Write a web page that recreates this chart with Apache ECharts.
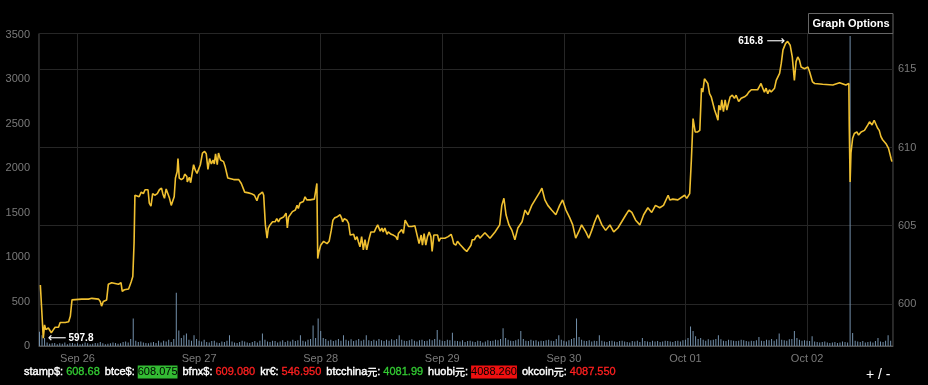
<!DOCTYPE html>
<html><head><meta charset="utf-8">
<script src="https://cdn.jsdelivr.net/npm/echarts@6/dist/echarts.min.js"></script>
<style>html,body{margin:0;padding:0;background:#000;}#c{width:928px;height:385px;}</style>
</head><body><div id="c"></div>
<script>
// ---------- DATA ----------
const YEAR = 2016;
const MONTHS = ['Jan','Feb','Mar','Apr','May','Jun','Jul','Aug','Sep','Oct','Nov','Dec'];

// price (USD) per day: [HH:mm, price]
const priceSep25 = [['16:40',601.2],['17:15',597.8],['17:30',598.65],['17:45',598.35],['18:15',598.45],['18:50',598.15],['19:15',598.35],['19:35',598.5],['20:15',598.5],['20:35',598.8],['21:35',598.8],['22:15',598.85],['22:35',599.2],['22:55',600.25],['23:15',600.3]];
const priceSep26 = [['00:50',600.3],['02:10',600.3],['02:50',600.35],['04:10',600.3],['04:30',600.15],['04:45',599.85],['05:05',600.15],['05:45',600.25],['06:05',601.25],['06:45',601.35],['08:05',601.25],['08:35',601.35],['08:50',600.8],['09:15',600.9],['10:05',600.95],['10:35',601.4],['10:55',601.75],['11:10',603.9],['11:20',606.95],['11:40',607.05],['12:10',606.85],['12:35',607.15],['13:00',607.05],['13:20',607.3],['13:55',607.3],['14:10',606.45],['14:30',606.25],['14:50',607.05],['15:15',606.95],['15:45',607.05],['16:10',607.3],['16:35',607.4],['16:50',607.05],['17:10',606.75],['17:30',607.35],['17:50',607.4],['18:10',606.75],['18:30',606.3],['18:45',606.2],['19:05',606.85],['19:20',608.05],['19:40',608.45],['19:50',609.3],['20:05',608.05],['20:30',607.95],['20:55',608.05],['21:10',608.3],['21:35',608.15],['21:40',607.8],['22:05',608.1],['22:20',607.75],['22:35',608.25],['22:55',608.9],['23:15',608.55],['23:35',608.35],['23:55',608.45]];
const priceSep27 = [['00:15',608.9],['00:40',609.65],['01:05',609.75],['01:25',609.6],['01:45',608.6],['02:05',609.3],['02:25',608.95],['02:45',609.2],['03:00',608.95],['03:15',609.6],['03:35',608.9],['03:50',609.65],['04:15',609.2],['04:30',609.3],['04:50',609.1],['05:10',608.75],['05:40',608.05],['06:50',607.95],['07:50',607.95],['08:20',607.7],['09:00',607.15],['09:45',607.1],['10:20',607.05],['10:55',606.95],['11:25',606.6],['11:45',606.95],['12:05',607.05],['12:30',607.15],['12:45',606.95],['13:05',605.05],['13:25',604.2],['13:40',604.85],['14:00',605.05],['14:30',605.25],['14:40',605.35],['15:00',605.25],['15:20',605.45],['15:40',605.25],['16:00',605.45],['16:40',605.55],['17:10',605.8],['17:25',604.85],['17:40',605.55],['18:00',605.55],['18:25',605.9],['19:00',606.0],['19:20',606.3],['19:35',606.1],['19:55',606.45],['20:35',606.55],['20:55',606.85],['21:15',606.65],['21:55',606.65],['22:15',606.55],['22:45',606.7],['23:05',606.65],['23:15',607.7],['23:25',602.9],['23:40',603.35]];
const priceSep28 = [['00:00',603.75],['00:35',604.0],['01:15',603.85],['01:40',604.0],['02:05',604.7],['02:25',605.35],['02:45',605.5],['03:10',605.55],['03:30',605.5],['03:50',605.7],['04:10',605.45],['04:20',605.25],['04:40',605.45],['05:10',605.35],['05:30',605.15],['05:50',604.4],['06:10',604.3],['06:30',604.45],['06:50',604.1],['07:10',604.3],['07:25',604.0],['07:45',603.65],['08:05',604.3],['08:25',603.45],['08:45',604.1],['09:05',603.45],['09:35',604.2],['09:55',604.6],['10:10',604.7],['10:35',604.6],['10:55',604.85],['11:15',605.05],['11:45',604.65],['12:05',604.85],['12:20',604.6],['12:40',604.85],['13:05',604.45],['13:20',604.6],['13:55',604.45],['14:20',604.4],['14:50',604.3],['15:10',604.1],['15:20',604.5],['15:40',604.4],['16:00',604.75],['16:20',604.5],['16:40',605.35],['17:00',605.25],['17:20',604.95],['17:40',605.0],['18:00',604.95],['18:35',605.0],['18:55',604.95],['19:10',604.2],['19:25',603.85],['19:50',604.4],['20:05',603.75],['20:25',604.5],['20:45',603.75],['21:05',604.3],['21:25',604.6],['21:45',604.3],['22:00',603.35],['22:20',604.4],['22:40',604.3],['23:05',604.4],['23:20',604.0],['23:40',604.2]];
const priceSep29 = [['00:00',604.1],['00:30',604.2],['00:50',604.1],['01:10',604.3],['01:45',604.45],['02:00',604.2],['02:15',603.85],['02:40',603.75],['03:00',604.0],['03:30',603.8],['03:55',603.65],['04:20',603.5],['04:50',603.35],['05:05',603.45],['05:40',603.75],['05:55',604.1],['06:20',604.1],['06:40',604.3],['07:05',604.4],['07:25',604.2],['08:25',604.55],['09:25',604.2],['10:25',604.6],['11:20',605.05],['11:45',606.3],['12:10',606.75],['12:35',605.7],['13:10',605.05],['13:45',604.7],['14:20',604.1],['14:55',604.85],['15:45',605.25],['16:20',606.0],['16:55',605.7],['17:40',606.3],['18:30',606.75],['19:15',607.15],['19:40',607.4],['20:15',606.65],['20:50',606.3],['21:35',606.0],['22:25',605.7],['23:10',606.3],['23:45',606.65]];
const priceSep30 = [['00:25',606.0],['01:10',605.5],['01:45',605.05],['02:20',604.2],['02:55',604.6],['03:30',605.05],['04:20',604.6],['04:55',604.2],['05:30',604.7],['06:05',605.25],['06:40',605.7],['07:30',605.05],['08:15',604.7],['09:05',605.05],['09:50',604.6],['10:40',604.85],['11:25',605.25],['12:15',605.7],['12:50',606.0],['13:25',605.85],['14:10',605.35],['15:00',605.05],['15:45',605.7],['16:35',606.15],['17:20',605.85],['18:05',606.3],['18:55',606.15],['19:40',606.3],['20:35',606.95],['20:55',606.65],['21:30',606.7],['22:30',606.65],['23:50',606.95]];
const priceOct01 = [['00:15',606.75],['00:50',607.05],['01:10',609.2],['01:30',611.85],['01:40',611.95],['01:55',611.0],['02:25',611.0],['02:50',611.1],['03:10',613.8],['03:25',613.55],['03:45',614.4],['04:05',614.4],['04:25',614.1],['04:45',613.45],['05:05',613.25],['05:25',613.25],['05:45',612.4],['06:05',612.1],['06:25',611.75],['06:35',612.7],['06:55',612.4],['07:10',613.05],['07:30',612.3],['07:50',613.05],['08:10',612.4],['08:30',612.85],['08:50',613.25],['09:15',613.35],['09:30',613.45],['09:40',613.15],['10:00',613.35],['10:30',612.95],['11:00',613.15],['11:20',613.05],['11:40',613.25],['12:05',613.35],['12:30',613.55],['13:00',613.7],['13:40',613.7],['14:15',613.7],['14:35',613.9],['14:55',614.1],['15:15',613.8],['15:35',613.55],['15:55',613.8],['16:15',613.45],['16:35',613.7],['16:55',613.55],['17:15',613.5],['17:35',613.8],['17:55',614.3],['18:15',614.4],['18:35',614.75],['18:55',615.4],['19:15',616.25],['19:45',616.65],['20:10',616.8],['20:40',616.55],['21:05',615.8],['21:30',614.3],['21:50',615.5],['22:10',615.8],['22:30',615.6],['22:50',615.15],['23:30',615.05],['23:50',614.95]];
const priceOct02 = [['00:10',615.15],['00:30',614.85],['01:05',614.2],['01:30',614.1],['03:05',614.05],['05:05',614.0],['06:25',614.15],['07:40',614.0],['08:15',614.1],['08:20',611.35],['08:30',607.8],['08:40',609.65],['09:00',610.6],['09:20',610.9],['09:50',611.0],['10:10',610.8],['10:40',611.0],['11:20',611.1],['12:00',611.45],['12:20',611.65],['12:50',611.45],['13:15',611.75],['13:35',611.85],['13:55',611.25],['14:15',611.1],['14:35',610.7],['14:55',610.5],['15:35',610.25],['16:05',609.95],['16:35',609.3],['16:45',609.1]];

// volume per 30 minutes, first bar at Sep 25 16:30
const volSep25 = [160,120,90,40,25,30,35,20,30,25,40,20,30,35,25];
const volSep26 = [30,20,25,40,30,20,25,35,30,45, 30,20,25,30,40,35,25,30,45,50, 40,80,310,60,45,50,40,35,30,40, 45,35,60,40,60,50,70,45,80,600, 175,90,120,140,70,60,120,80];
const volSep27 = [60,50,70,45,40,55,60,40,35,50, 45,60,120,50,40,35,45,60,50,40, 35,45,55,40,60,140,70,50,45,60, 55,40,50,65,45,60,50,70,55,65, 120,60,50,70,80,230,90,310];
const volSep28 = [170,90,80,60,70,55,65,80,60,120, 70,60,75,55,65,80,60,70,120,65, 55,70,60,80,65,55,70,60,75,65, 80,120,70,60,55,65,75,60,50,65, 70,55,60,75,65,80,180,70];
const volSep29 = [60,55,70,65,150,60,55,50,65,45, 55,60,50,45,60,55,40,50,65,55, 60,70,65,80,200,90,70,60,55,65, 75,170,80,60,55,70,60,65,50,60, 55,65,70,60,55,80,120,70];
const volSep30 = [60,50,65,80,90,310,100,70,60,55, 65,50,60,55,120,60,50,45,55,60, 50,45,55,60,50,45,40,55,50,60, 45,90,55,50,45,60,50,55,45,50, 60,55,50,45,55,60,50,65];
const volOct01 = [70,90,220,170,110,80,90,70,60,75, 65,70,80,120,75,60,55,70,65,60, 55,60,70,65,55,50,60,55,65,100, 60,55,70,65,80,60,75,140,70,65, 60,75,80,170,90,70,60,65];
const volOct02 = [60,55,110,50,45,40,45,50,40,35, 40,45,35,40,50,45,40,3490,145,60, 50,45,55,40,45,50,40,55,90,50, 45,60,120,60];

// ticker row
const exchanges = ['stamp$','btce$','bfnx$','kr€','btcchina元','huobi元','okcoin元'];
const lastPrices = ['608.68','608.075','609.080','546.950','4081.99','4088.260','4087.550'];
const priceState = ['up','upBox','down','down','up','downBox','down'];

// ---------- BUILD ----------
function ts(m, d, hm) { const [h, mi] = hm.split(':').map(Number); return new Date(YEAR, m - 1, d, h, mi).getTime(); }
const priceDays = [[9,25,priceSep25],[9,26,priceSep26],[9,27,priceSep27],[9,28,priceSep28],[9,29,priceSep29],[9,30,priceSep30],[10,1,priceOct01],[10,2,priceOct02]];
const priceData = [];
priceDays.forEach(([m,d,arr]) => arr.forEach(([hm,v]) => priceData.push([ts(m,d,hm), v])));
const volAll = [].concat(volSep25, volSep26, volSep27, volSep28, volSep29, volSep30, volOct01, volOct02);
const volStart = ts(9,25,'16:30');
const volData = volAll.map((v,i) => [volStart + i*30*60000, v]);
const DAY = 86400000;
const FONT = "'Liberation Sans', Arial, sans-serif";

const styleMap = {up:'g', down:'r', upBox:'gb', downBox:'rb'};
function labelRich(e) {
  if (e.indexOf('元') >= 0) return '{l|' + e.replace('元', '') + '}{c|元}{l|:}';
  return '{l|' + e + ':}';
}
const tickerText = exchanges.map((e,i) => labelRich(e) + '{s| }{' + styleMap[priceState[i]] + '|' + lastPrices[i] + '}').join('{w| }');

const chart = echarts.init(document.getElementById('c'), null, {renderer:'canvas'});
chart.setOption({
  backgroundColor: '#000',
  animation: false,
  grid: {left: 39, right: 35, top: 33.5, bottom: 39, show: true, borderColor: '#555', borderWidth: 1, backgroundColor: 'transparent'},
  xAxis: {
    type: 'time', min: ts(9,25,'16:30'), max: ts(10,2,'16:52'),
    minInterval: DAY, maxInterval: DAY, splitNumber: 7,
    axisLine: {show: true, lineStyle: {color: '#555'}},
    axisTick: {show: false},
    axisLabel: {color: '#7a7a7a', fontSize: 11, fontFamily: FONT, margin: 7, hideOverlap: false,
      formatter: function (v) { const d = new Date(v); return MONTHS[d.getMonth()] + ' ' + String(d.getDate()).padStart(2,'0'); }},
    splitLine: {show: true, lineStyle: {color: '#262626', width: 1}}
  },
  yAxis: [
    {type: 'value', position: 'left', min: 0, max: 3517, interval: 500,
     axisLine: {show: false}, axisTick: {show: false}, splitLine: {show: false},
     axisLabel: {color: '#7a7a7a', fontSize: 11, fontFamily: FONT, margin: 9, showMaxLabel: false,
       formatter: v => (v % 500 === 0 ? String(v) : '')}},
    {type: 'value', position: 'right', min: 597.3, max: 617.3, splitNumber: 4,
     axisLine: {show: false}, axisTick: {show: false},
     splitLine: {show: true, lineStyle: {color: '#262626', width: 1}},
     axisLabel: {color: '#7a7a7a', fontSize: 11, fontFamily: FONT, margin: 5,
       formatter: v => (Math.abs(v - Math.round(v / 5) * 5) < 1e-6 ? String(Math.round(v)) : '')}}
  ],
  series: [
    {type: 'bar', name: 'volume', xAxisIndex: 0, yAxisIndex: 0, data: volData, barWidth: 1,
     itemStyle: {color: '#7390ab'}, z: 2},
    {type: 'line', name: 'price', xAxisIndex: 0, yAxisIndex: 1, data: priceData, showSymbol: false,
     lineStyle: {color: '#f0c030', width: 1.6}, z: 3,
     markPoint: {
       symbol: 'circle', symbolSize: 1, itemStyle: {color: 'rgba(0,0,0,0)'},
       data: [
         {type: 'min', label: {show: true, position: 'right', distance: 4,
           formatter: p => '{a|⟵}{b|' + p.value.toFixed(1) + '}',
           rich: {a: {color: '#fff', fontSize: 13, fontFamily: 'DejaVu Sans', padding: [0, 2, 0, 0]}, b: {color: '#fff', fontSize: 10, fontWeight: 'bold', fontFamily: FONT}}}},
         {type: 'max', label: {show: true, position: 'left', distance: 2,
           formatter: p => '{b|' + p.value.toFixed(1) + '} {a|⟶}',
           rich: {a: {color: '#fff', fontSize: 13, fontFamily: 'DejaVu Sans'}, b: {color: '#fff', fontSize: 10, fontWeight: 'bold', fontFamily: FONT}}}}
       ]
     }}
  ],
  graphic: [
    {type: 'rect', shape: {x: 808.5, y: 13.5, width: 84.5, height: 20}, style: {fill: '#000', stroke: '#666', lineWidth: 1}, z: 10},
    {type: 'text', x: 851, y: 23.5, z: 11, style: {text: 'Graph Options', fill: '#fff', font: 'bold 11px ' + FONT, align: 'center', verticalAlign: 'middle'}},
    {type: 'text', x: 24, y: 372, z: 11, style: {
      text: tickerText, verticalAlign: 'middle', font: '11px ' + FONT, fill: '#fff',
      rich: {
        l: {fill: '#fff', fontSize: 11, fontFamily: FONT, stroke: '#fff', lineWidth: 0.4},
        c: {fill: '#fff', fontSize: 10, fontFamily: "'Noto Sans CJK SC', sans-serif", stroke: '#fff', lineWidth: 0.3},
        s: {fontSize: 11, width: 3},
        w: {fontSize: 11, width: 5},
        g: {fill: '#33cc33', fontSize: 11, fontFamily: FONT, stroke: '#33cc33', lineWidth: 0.3},
        r: {fill: '#ff2020', fontSize: 11, fontFamily: FONT, stroke: '#ff2020', lineWidth: 0.3},
        gb: {fill: '#000', fontSize: 11, fontFamily: FONT, backgroundColor: '#33bb33', padding: [1, 0, 1, 0]},
        rb: {fill: '#000', fontSize: 11, fontFamily: FONT, backgroundColor: '#ee1010', padding: [1, 0, 1, 0]}
      }}},
    {type: 'text', x: 866, y: 375, z: 11, style: {text: '+ / -', fill: '#fff', font: '14px ' + FONT, verticalAlign: 'middle'}}
  ]
});
</script></body></html>
